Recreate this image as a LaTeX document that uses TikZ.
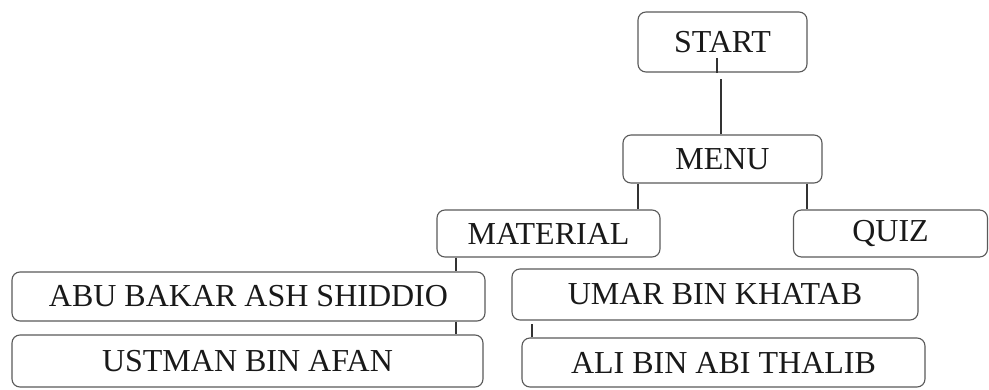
\documentclass[tikz,border=0pt]{standalone}
\usepackage{fontspec}
\setmainfont{Liberation Serif}
\begin{document}
\begin{tikzpicture}[x=1pt,y=1pt,
  box/.style={draw=black!65,line width=1.1pt,rounded corners=8pt,inner sep=0pt,
    font=\fontsize{32}{36}\selectfont,text=black!90},
  conn/.style={draw=black!80,line width=1.6pt}]
\useasboundingbox (0,0) rectangle (989,-389);
\node[box,minimum width=169,minimum height=60] (start) at (722.5,-42) {START};
\node[box,minimum width=199,minimum height=48] (menu) at (722.5,-159) {MENU};
\node[box,minimum width=223,minimum height=47] (material) at (548.5,-233.5) {MATERIAL};
\node[box,minimum width=194,minimum height=47] (quiz) at (890.5,-233.5) {QUIZ};
\node[box,minimum width=473,minimum height=49] (abu) at (248.5,-296.5) {ABU BAKAR ASH SHIDDIO};
\node[box,minimum width=471,minimum height=52] (ustman) at (247.5,-361) {USTMAN BIN AFAN};
\node[box,minimum width=406,minimum height=51] (umar) at (715,-294.5) {UMAR BIN KHATAB};
\node[box,minimum width=403,minimum height=49] (ali) at (723.5,-362.5) {ALI BIN ABI THALIB};
\coordinate (xs) at (717,0);
\coordinate (xm) at (721,0);
\coordinate (xl) at (638,0);
\coordinate (xr) at (807,0);
\coordinate (xa) at (456,0);
\coordinate (xu) at (532,0);
\draw[conn] (xs |- start.south) -- ++(0,15);
\draw[conn] (xm |- menu.north) -- ++(0,55);
\draw[conn] (xl |- menu.south) -- (xl |- material.north);
\draw[conn] (xr |- menu.south) -- (xr |- quiz.north);
\draw[conn] (xa |- material.south) -- (xa |- abu.north);
\draw[conn] (xa |- abu.south) -- (xa |- ustman.north);
\draw[conn] (xu |- ali.north) -- ++(0,13);
\end{tikzpicture}
\end{document}
